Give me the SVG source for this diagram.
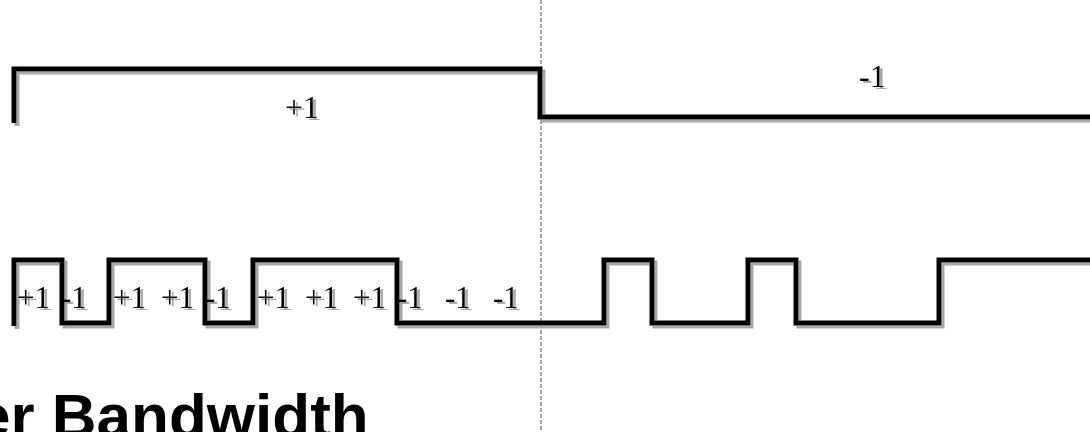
<svg xmlns="http://www.w3.org/2000/svg" width="1090" height="432" viewBox="0 0 1090 432">
  <defs>
    <filter id="sh" filterUnits="userSpaceOnUse" x="0" y="0" width="1100" height="440">
      <feDropShadow dx="3" dy="3" stdDeviation="0.5" flood-color="#a8a8a8" flood-opacity="1"/>
    </filter>
    <filter id="tsh" filterUnits="userSpaceOnUse" x="0" y="0" width="1100" height="440">
      <feDropShadow dx="3" dy="2" stdDeviation="0.4" flood-color="#a8a8a8" flood-opacity="1"/>
    </filter>
  </defs>
  <style>
    .wave { fill: none; stroke: #000; stroke-width: 5; stroke-linejoin: miter; stroke-linecap: butt; filter: url(#sh); }
    .lbl { font-family: "Liberation Serif", "Times New Roman", serif; font-size: 31px; fill: #000; filter: url(#tsh); }
    .big { font-size: 32px; }
    .title { font-family: "Liberation Sans", Arial, sans-serif; font-size: 62px; font-weight: bold; fill: #000; }
  </style>
  <rect width="1090" height="432" fill="#fff"/>
  <g id="divider">
    <line x1="541" y1="0" x2="541" y2="432" stroke="#444" stroke-width="1" stroke-dasharray="4 2"/>
  </g>
  <g id="data-signal">
    <path class="wave" d="M14,123 V69 H540 V117 H1095"/>
    <text class="lbl big" x="285" y="118">+1</text>
    <text class="lbl big" x="859" y="87">-1</text>
  </g>
  <g id="chip-signal">
    <path class="wave" d="M14,326 V260 H62 V323 H109 V260 H205 V323 H253 V260 H397 V323 H604 V260 H652 V323 H748 V260 H796 V323 H939 V260 H1095"/>
    <g class="lbl">
      <text x="17" y="308">+1</text>
      <text x="61" y="308">-1</text>
      <text x="113" y="308">+1</text>
      <text x="161" y="308">+1</text>
      <text x="205" y="308">-1</text>
      <text x="257" y="308">+1</text>
      <text x="305" y="308">+1</text>
      <text x="353" y="308">+1</text>
      <text x="397" y="308">-1</text>
      <text x="445" y="308">-1</text>
      <text x="493" y="308">-1</text>
    </g>
  </g>
  <g id="title">
    <text class="title" x="-24" y="437">er Bandwidth</text>
  </g>
</svg>
